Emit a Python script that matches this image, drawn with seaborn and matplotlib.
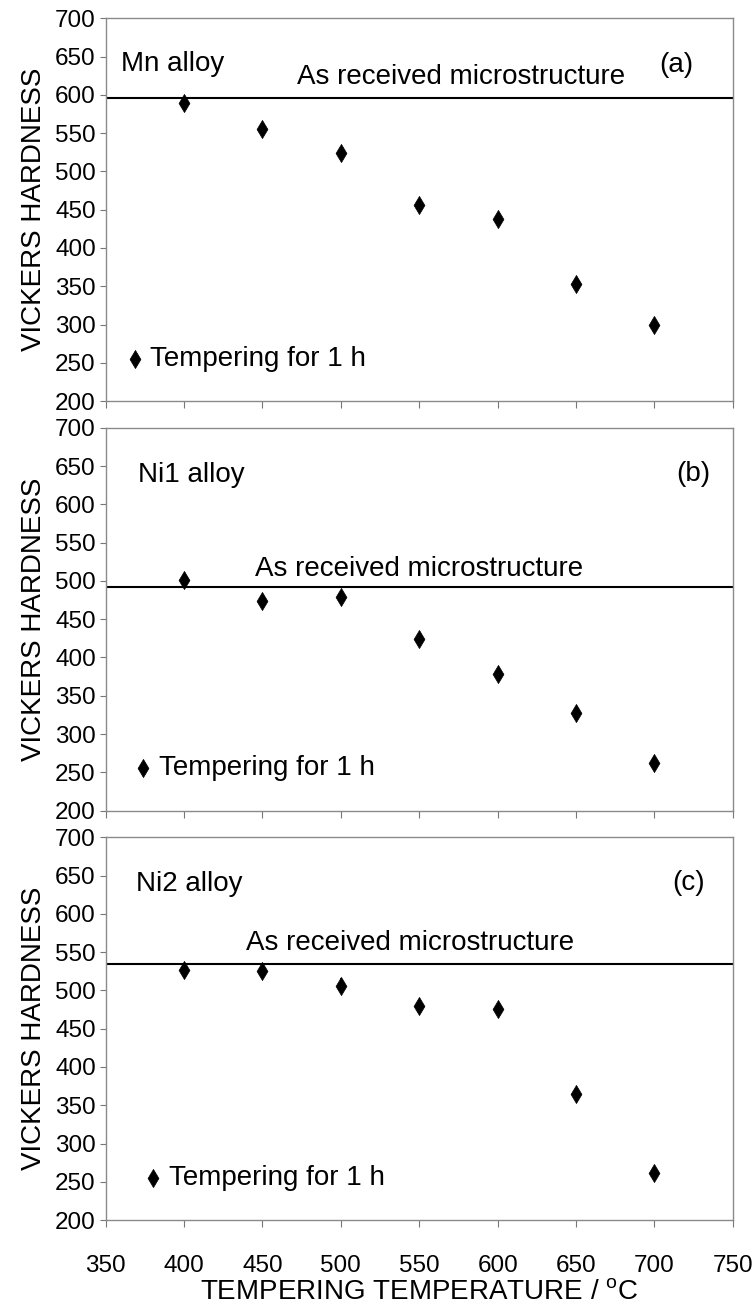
import pandas as pd
import seaborn as sns
import matplotlib.pyplot as plt
import numpy as np

# Tempering temperatures (deg C)
temps = [400, 450, 500, 550, 600, 650, 700]

# Vickers hardness
mn_hv = [590, 555, 524, 456, 438, 353, 300]
ni1_hv = [501, 474, 479, 424, 378, 327, 262]
ni2_hv = [527, 526, 506, 479, 476, 365, 262]

# small error bars
mn_err = [4, 3, 3, 7, 8, 3, 3]
ni1_err = [3, 3, 3, 3, 3, 3, 3]
ni2_err = [6, 4, 10, 4, 5, 5, 4]

# as received hardness (horizontal line)
as_received = [596, 492, 535]

alloys = ['Mn alloy', 'Ni1 alloy', 'Ni2 alloy']
panel_tags = ['(a)', '(b)', '(c)']

# text placement per panel (axes fraction)
alloy_pos = [(0.025, 0.882), (0.051, 0.876), (0.048, 0.878)]
recv_pos = [(0.567, 0.846), (0.50, 0.63), (0.485, 0.724)]
tag_pos = [(0.91, 0.878), (0.937, 0.88), (0.93, 0.88)]
legend_x = [0.036, 0.049, 0.065]

sns.set_theme(style="ticks")
plt.rcParams['font.family'] = ['Liberation Sans', 'DejaVu Sans']
plt.rcParams['text.color'] = 'black'
plt.rcParams['axes.labelcolor'] = 'black'
plt.rcParams['xtick.labelcolor'] = 'black'
plt.rcParams['ytick.labelcolor'] = 'black'

fig, axes = plt.subplots(3, 1, sharex=True, figsize=(7.54, 13.13), dpi=100)
fig.subplots_adjust(left=0.14, right=0.972, top=0.986, bottom=0.0708, hspace=0.07)

series = [mn_hv, ni1_hv, ni2_hv]
errs = [mn_err, ni1_err, ni2_err]

for i, ax in enumerate(axes):
    df = pd.DataFrame({'temp': temps, 'hv': series[i], 'err': errs[i]})

    ax.errorbar(df['temp'], df['hv'], yerr=df['err'], fmt='none',
                ecolor='black', elinewidth=1.2, capsize=0, zorder=2)
    sns.scatterplot(data=df, x='temp', y='hv', marker='d', s=85,
                    color='black', edgecolor='black', linewidth=0.5,
                    ax=ax, label='Tempering for 1 h', zorder=3)
    ax.axhline(as_received[i], color='black', lw=1.5, zorder=1)

    ax.set_xlim(350, 750)
    ax.set_ylim(200, 700)
    ax.set_xticks(np.arange(350, 751, 50))
    ax.set_yticks(np.arange(200, 701, 50))

    ax.set_ylabel('VICKERS HARDNESS', fontsize=20, labelpad=6)
    ax.set_xlabel('')

    ax.tick_params(axis='y', labelsize=17.5, length=4, width=0.8, pad=3, color='#777777')
    ax.tick_params(axis='x', labelsize=17.5, length=5, width=0.8, pad=20, color='#777777')

    for sp in ax.spines.values():
        sp.set_visible(True)
        sp.set_color('#8a8a8a')
        sp.set_linewidth(1.0)

    ax.text(*alloy_pos[i], alloys[i], transform=ax.transAxes, fontsize=20,
            ha='left', va='center')
    ax.text(*recv_pos[i], 'As received microstructure', transform=ax.transAxes,
            fontsize=20, ha='center', va='center')
    ax.text(*tag_pos[i], panel_tags[i], transform=ax.transAxes, fontsize=20,
            ha='center', va='center')

    ax.legend(loc='center left', bbox_to_anchor=(legend_x[i], 0.11),
              frameon=False, fontsize=20, handlelength=0.5, handletextpad=0.3,
              borderaxespad=0, borderpad=0)

axes[2].set_xlabel('TEMPERING TEMPERATURE / $^{\\mathregular{o}}$C', fontsize=20, labelpad=2)

fig.savefig('out.png', dpi=100)
